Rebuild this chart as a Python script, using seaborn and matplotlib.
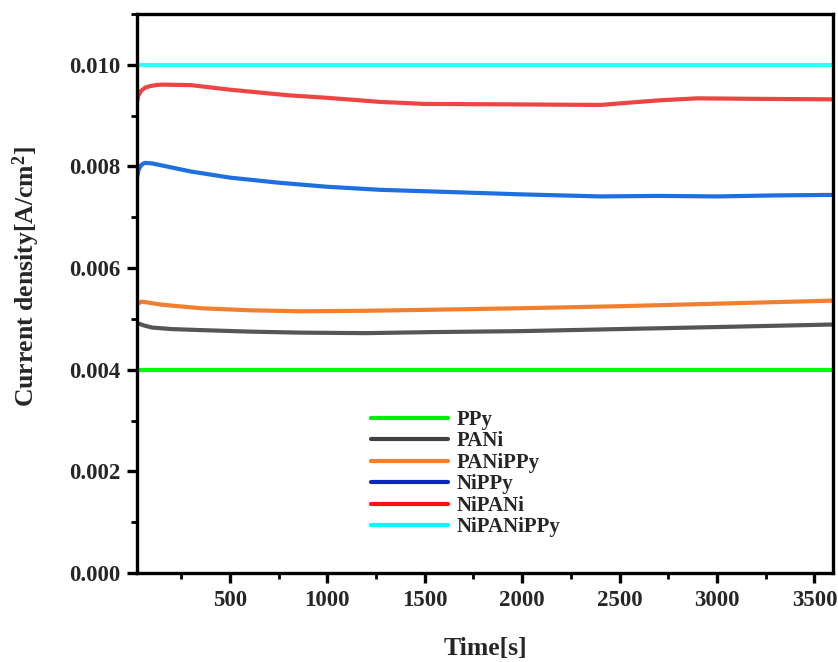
import matplotlib
matplotlib.use("Agg")
import matplotlib.pyplot as plt
from matplotlib.lines import Line2D
from matplotlib.ticker import MultipleLocator, FormatStrFormatter
import pandas as pd
import seaborn as sns

# Chronoamperometry: current density vs time for each coating
time_ppy = [23, 600, 1200, 1800, 2400, 3000, 3595]
j_ppy = [0.0040, 0.0040, 0.0040, 0.0040, 0.0040, 0.0040, 0.0040]

time_pani = [23, 60, 100, 200, 350, 600, 860, 1200, 1525, 2000, 2500, 3000, 3595]
j_pani = [0.00492, 0.00487, 0.00483, 0.00480, 0.00478, 0.00475, 0.00473,
          0.00472, 0.00474, 0.00476, 0.00480, 0.00484, 0.00489]

time_panippy = [23, 47, 100, 150, 350, 600, 860, 1200, 1525, 2000, 2500, 3000, 3595]
j_panippy = [0.00529, 0.00534, 0.00531, 0.00528, 0.00521, 0.00517, 0.00515,
             0.00516, 0.00518, 0.00521, 0.00525, 0.00530, 0.00536]

time_nippy = [23, 30, 40, 52, 64, 100, 150, 300, 500, 750, 1000, 1270, 1600,
              2000, 2400, 2700, 3000, 3300, 3595]
j_nippy = [0.00778, 0.00792, 0.00800, 0.00805, 0.00807, 0.00806, 0.00802,
           0.00790, 0.00778, 0.00768, 0.00760, 0.00754, 0.00750, 0.00745,
           0.00741, 0.00742, 0.00741, 0.00743, 0.00744]

time_nipani = [23, 30, 45, 65, 90, 120, 150, 300, 500, 800, 1000, 1270, 1500,
               2000, 2400, 2700, 2900, 3200, 3595]
j_nipani = [0.00927, 0.00940, 0.00949, 0.00955, 0.00958, 0.00960, 0.00961,
            0.00960, 0.00951, 0.00940, 0.00935, 0.00927, 0.00923, 0.00922,
            0.00921, 0.00930, 0.00934, 0.00933, 0.00932]

time_nipanippy = [23, 600, 1200, 1800, 2400, 3000, 3595]
j_nipanippy = [0.0100, 0.0100, 0.0100, 0.0100, 0.0100, 0.0100, 0.0100]

series = ["PPy", "PANi", "PANiPPy", "NiPPy", "NiPANi", "NiPANiPPy"]
line_colors = ["#00FF00", "#555555", "#F08030", "#1E6FE0", "#EE4444", "#33FFFF"]
legend_colors = ["#00EE00", "#404040", "#F08030", "#0A28C0", "#FF1010", "#00FFFF"]

frames = []
for name, t, j in zip(series,
                      [time_ppy, time_pani, time_panippy, time_nippy, time_nipani, time_nipanippy],
                      [j_ppy, j_pani, j_panippy, j_nippy, j_nipani, j_nipanippy]):
    frames.append(pd.DataFrame({"Time": t, "J": j, "Sample": name}))
df = pd.concat(frames, ignore_index=True)

sns.set_style("ticks")
plt.rcParams["font.family"] = ["Liberation Serif", "DejaVu Serif"]
plt.rcParams["font.weight"] = "bold"
plt.rcParams["mathtext.fontset"] = "custom"
plt.rcParams["mathtext.rm"] = "Liberation Serif:bold"
plt.rcParams["mathtext.it"] = "Liberation Serif:bold"
plt.rcParams["mathtext.bf"] = "Liberation Serif:bold"

fig = plt.figure(figsize=(8.38, 6.62), dpi=100)
ax = fig.add_axes([0.1635, 0.1344, 0.8305, 0.8445])

sns.lineplot(data=df, x="Time", y="J", hue="Sample", hue_order=series,
             palette=dict(zip(series, line_colors)), linewidth=3.0,
             legend=False, ax=ax, sort=False, estimator=None)

ax.set_xlim(23, 3595)
ax.set_ylim(0, 0.011)
ax.xaxis.set_major_locator(MultipleLocator(500))
ax.xaxis.set_minor_locator(MultipleLocator(250))
ax.yaxis.set_major_locator(MultipleLocator(0.002))
ax.yaxis.set_minor_locator(MultipleLocator(0.001))
ax.yaxis.set_major_formatter(FormatStrFormatter("%.3f"))

for s in ax.spines.values():
    s.set_visible(True)
    s.set_linewidth(2.4)
    s.set_color("black")
ax.tick_params(axis="both", which="major", direction="out", length=7, width=2.4,
               labelsize=16.5, pad=5, color="black")
ax.tick_params(axis="both", which="minor", direction="out", length=4, width=2.0,
               color="black")
for lbl in ax.get_xticklabels() + ax.get_yticklabels():
    lbl.set_fontweight("bold")

ax.set_xlabel("Time[s]", fontsize=18.5, fontweight="bold", labelpad=19)
ax.set_ylabel(r"Current density[A/cm$^{2}$]", fontsize=18.5, fontweight="bold")
ax.yaxis.set_label_coords(-0.136, 0.53)

handles = [Line2D([0], [0], color=c, lw=3.0) for c in legend_colors]
leg = ax.legend(handles, series, loc="upper left",
                bbox_to_anchor=(371 / 838, 1 - 410 / 662),
                bbox_transform=fig.transFigure, frameon=False,
                prop={"family": "Liberation Serif", "weight": "bold", "size": 15},
                handlelength=3.7, handletextpad=0.4, labelspacing=0.07,
                borderaxespad=0, borderpad=0)

fig.savefig("out.png", dpi=100, facecolor="white")
